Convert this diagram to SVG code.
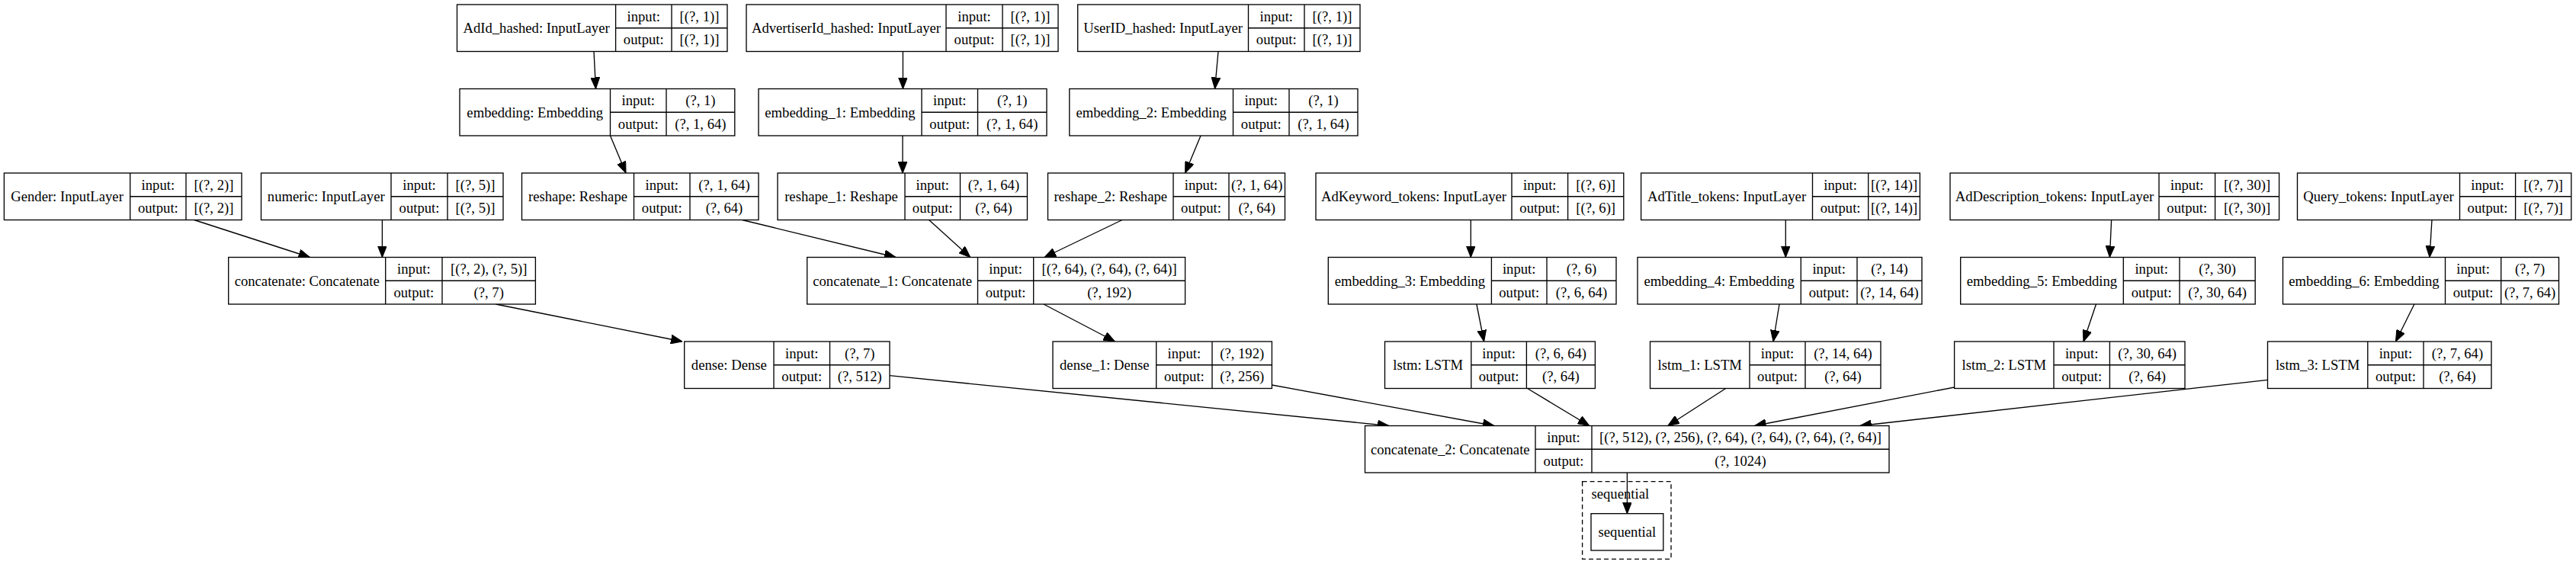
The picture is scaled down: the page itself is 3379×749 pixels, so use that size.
<svg xmlns="http://www.w3.org/2000/svg" width="3379" height="749" viewBox="0 0 3379 749">
<style>
.b{fill:#fff;stroke:#000;stroke-width:1.33}
.l{stroke:#000;stroke-width:1.33;fill:none}
.e{stroke:#000;stroke-width:1.33;fill:none;marker-end:url(#ah)}
text{font-family:"Liberation Serif","Times New Roman",serif;font-size:18.67px;text-anchor:middle;fill:#000}
</style>
<defs>
<marker id="ah" markerUnits="userSpaceOnUse" markerWidth="15" markerHeight="12" viewBox="0 0 14 11" refX="14" refY="5.5" orient="auto"><path d="M0,0 L14,5.5 L0,11 z" fill="#000" stroke="#000" stroke-width="1"/></marker>
</defs>
<rect width="3379" height="749" fill="#fff"/>

<g id="connectors">
<line class="e" x1="779" y1="67.5" x2="781.5" y2="116.5"/>
<line class="e" x1="1184.4" y1="67.5" x2="1184.4" y2="116.5"/>
<line class="e" x1="1598" y1="67.5" x2="1593.6" y2="116.5"/>
<line class="e" x1="800.5" y1="178" x2="821" y2="227"/>
<line class="e" x1="1184" y1="178" x2="1184" y2="227"/>
<line class="e" x1="1575" y1="178" x2="1554.6" y2="227"/>
<line class="e" x1="254.7" y1="288.5" x2="406.5" y2="337.5"/>
<line class="e" x1="501.4" y1="288.5" x2="501.4" y2="337.5"/>
<line class="e" x1="973.6" y1="288.5" x2="1175" y2="337.5"/>
<line class="e" x1="1218.6" y1="288.5" x2="1272.8" y2="337.5"/>
<line class="e" x1="1472" y1="288.5" x2="1370" y2="337.5"/>
<line class="e" x1="1929.3" y1="288.5" x2="1929.3" y2="337.5"/>
<line class="e" x1="2342.3" y1="288.5" x2="2342.3" y2="337.5"/>
<line class="e" x1="2769.6" y1="288.5" x2="2767.4" y2="337.5"/>
<line class="e" x1="3190" y1="288.5" x2="3187" y2="337.5"/>
<line class="e" x1="650.4" y1="399" x2="895" y2="448"/>
<line class="e" x1="1369" y1="399" x2="1462.5" y2="448"/>
<line class="e" x1="1936.9" y1="399" x2="1946.6" y2="448"/>
<line class="e" x1="2334" y1="399" x2="2326" y2="448"/>
<line class="e" x1="2749.5" y1="399" x2="2733" y2="448"/>
<line class="e" x1="3166.9" y1="399" x2="3142.5" y2="448"/>
<line class="e" x1="1167" y1="492.7" x2="1822" y2="558.5"/>
<line class="e" x1="1668.4" y1="505" x2="1960" y2="558.5"/>
<line class="e" x1="2003.5" y1="509.5" x2="2084.8" y2="558.5"/>
<line class="e" x1="2263.7" y1="509.5" x2="2187.8" y2="558.5"/>
<line class="e" x1="2563.6" y1="508" x2="2301.6" y2="558.5"/>
<line class="e" x1="2974.5" y1="498.3" x2="2439.8" y2="558.5"/>
<line class="e" x1="2134.4" y1="620" x2="2134.4" y2="673.7"/>
</g>

<!-- Row A T=6 -->
<g id="AdId_hashed">
<rect class="b" x="599.5" y="6" width="354.5" height="61.5"/>
<path class="l" d="M807.6,6V67.5M881,6V67.5M807.6,36.75H954"/>
<text x="703.55" y="43">AdId_hashed: InputLayer</text>
<text x="844.3" y="27.5">input:</text><text x="844.3" y="58">output:</text>
<text x="917.5" y="27.5">[(?, 1)]</text><text x="917.5" y="58">[(?, 1)]</text>
</g>
<g id="AdvertiserId_hashed">
<rect class="b" x="979" y="6" width="409" height="61.5"/>
<path class="l" d="M1241,6V67.5M1315,6V67.5M1241,36.75H1388"/>
<text x="1110" y="43">AdvertiserId_hashed: InputLayer</text>
<text x="1278" y="27.5">input:</text><text x="1278" y="58">output:</text>
<text x="1351.5" y="27.5">[(?, 1)]</text><text x="1351.5" y="58">[(?, 1)]</text>
</g>
<g id="UserID_hashed">
<rect class="b" x="1413.7" y="6" width="370.3" height="61.5"/>
<path class="l" d="M1637.5,6V67.5M1711,6V67.5M1637.5,36.75H1784"/>
<text x="1525.6" y="43">UserID_hashed: InputLayer</text>
<text x="1674.25" y="27.5">input:</text><text x="1674.25" y="58">output:</text>
<text x="1747.5" y="27.5">[(?, 1)]</text><text x="1747.5" y="58">[(?, 1)]</text>
</g>

<!-- Row B T=116.5 -->
<g id="embedding">
<rect class="b" x="603" y="116.5" width="360.8" height="61.5"/>
<path class="l" d="M800.5,116.5V178M874,116.5V178M800.5,147.25H963.8"/>
<text x="701.75" y="153.5">embedding: Embedding</text>
<text x="837.25" y="138">input:</text><text x="837.25" y="168.5">output:</text>
<text x="918.9" y="138">(?, 1)</text><text x="918.9" y="168.5">(?, 1, 64)</text>
</g>
<g id="embedding_1">
<rect class="b" x="995" y="116.5" width="378" height="61.5"/>
<path class="l" d="M1209,116.5V178M1282.5,116.5V178M1209,147.25H1373"/>
<text x="1102" y="153.5">embedding_1: Embedding</text>
<text x="1245.75" y="138">input:</text><text x="1245.75" y="168.5">output:</text>
<text x="1327.75" y="138">(?, 1)</text><text x="1327.75" y="168.5">(?, 1, 64)</text>
</g>
<g id="embedding_2">
<rect class="b" x="1402.8" y="116.5" width="378.2" height="61.5"/>
<path class="l" d="M1617.5,116.5V178M1691,116.5V178M1617.5,147.25H1781"/>
<text x="1510.15" y="153.5">embedding_2: Embedding</text>
<text x="1654.25" y="138">input:</text><text x="1654.25" y="168.5">output:</text>
<text x="1736" y="138">(?, 1)</text><text x="1736" y="168.5">(?, 1, 64)</text>
</g>

<!-- Row C T=227 -->
<g id="Gender">
<rect class="b" x="5.4" y="227" width="311.6" height="61.5"/>
<path class="l" d="M170.7,227V288.5M244,227V288.5M170.7,257.75H317"/>
<text x="88.05" y="264">Gender: InputLayer</text>
<text x="207.35" y="248.5">input:</text><text x="207.35" y="279">output:</text>
<text x="280.5" y="248.5">[(?, 2)]</text><text x="280.5" y="279">[(?, 2)]</text>
</g>
<g id="numeric">
<rect class="b" x="342.5" y="227" width="317.5" height="61.5"/>
<path class="l" d="M513,227V288.5M587,227V288.5M513,257.75H660"/>
<text x="427.75" y="264">numeric: InputLayer</text>
<text x="550" y="248.5">input:</text><text x="550" y="279">output:</text>
<text x="623.5" y="248.5">[(?, 5)]</text><text x="623.5" y="279">[(?, 5)]</text>
</g>
<g id="reshape">
<rect class="b" x="684.5" y="227" width="310.5" height="61.5"/>
<path class="l" d="M831.5,227V288.5M905,227V288.5M831.5,257.75H995"/>
<text x="758" y="264">reshape: Reshape</text>
<text x="868.25" y="248.5">input:</text><text x="868.25" y="279">output:</text>
<text x="950" y="248.5">(?, 1, 64)</text><text x="950" y="279">(?, 64)</text>
</g>
<g id="reshape_1">
<rect class="b" x="1020" y="227" width="327.5" height="61.5"/>
<path class="l" d="M1187,227V288.5M1259.5,227V288.5M1187,257.75H1347.5"/>
<text x="1103.5" y="264">reshape_1: Reshape</text>
<text x="1223.25" y="248.5">input:</text><text x="1223.25" y="279">output:</text>
<text x="1303.5" y="248.5">(?, 1, 64)</text><text x="1303.5" y="279">(?, 64)</text>
</g>
<g id="reshape_2">
<rect class="b" x="1374.5" y="227" width="311" height="61.5"/>
<path class="l" d="M1539,227V288.5M1612,227V288.5M1539,257.75H1685.5"/>
<text x="1456.75" y="264">reshape_2: Reshape</text>
<text x="1575.5" y="248.5">input:</text><text x="1575.5" y="279">output:</text>
<text x="1648.75" y="248.5">(?, 1, 64)</text><text x="1648.75" y="279">(?, 64)</text>
</g>
<g id="AdKeyword_tokens">
<rect class="b" x="1726" y="227" width="403.8" height="61.5"/>
<path class="l" d="M1983,227V288.5M2056.6,227V288.5M1983,257.75H2129.8"/>
<text x="1854.5" y="264">AdKeyword_tokens: InputLayer</text>
<text x="2019.8" y="248.5">input:</text><text x="2019.8" y="279">output:</text>
<text x="2093.2" y="248.5">[(?, 6)]</text><text x="2093.2" y="279">[(?, 6)]</text>
</g>
<g id="AdTitle_tokens">
<rect class="b" x="2152.6" y="227" width="365.8" height="61.5"/>
<path class="l" d="M2377.5,227V288.5M2450.7,227V288.5M2377.5,257.75H2518.4"/>
<text x="2265.05" y="264">AdTitle_tokens: InputLayer</text>
<text x="2414.1" y="248.5">input:</text><text x="2414.1" y="279">output:</text>
<text x="2484.55" y="248.5">[(?, 14)]</text><text x="2484.55" y="279">[(?, 14)]</text>
</g>
<g id="AdDescription_tokens">
<rect class="b" x="2558" y="227" width="431.6" height="61.5"/>
<path class="l" d="M2832,227V288.5M2905.6,227V288.5M2832,257.75H2989.6"/>
<text x="2695" y="264">AdDescription_tokens: InputLayer</text>
<text x="2868.8" y="248.5">input:</text><text x="2868.8" y="279">output:</text>
<text x="2947.6" y="248.5">[(?, 30)]</text><text x="2947.6" y="279">[(?, 30)]</text>
</g>
<g id="Query_tokens">
<rect class="b" x="3013.5" y="227" width="359.3" height="61.5"/>
<path class="l" d="M3226.5,227V288.5M3299.6,227V288.5M3226.5,257.75H3372.8"/>
<text x="3120" y="264">Query_tokens: InputLayer</text>
<text x="3263.05" y="248.5">input:</text><text x="3263.05" y="279">output:</text>
<text x="3336.2" y="248.5">[(?, 7)]</text><text x="3336.2" y="279">[(?, 7)]</text>
</g>

<!-- Row D T=337.5 -->
<g id="concatenate">
<rect class="b" x="299.7" y="337.5" width="402.7" height="61.5"/>
<path class="l" d="M505.7,337.5V399M580,337.5V399M505.7,368.25H702.4"/>
<text x="402.7" y="374.5">concatenate: Concatenate</text>
<text x="542.85" y="359">input:</text><text x="542.85" y="389.5">output:</text>
<text x="641.2" y="359">[(?, 2), (?, 5)]</text><text x="641.2" y="389.5">(?, 7)</text>
</g>
<g id="concatenate_1">
<rect class="b" x="1058.7" y="337.5" width="495.9" height="61.5"/>
<path class="l" d="M1282.5,337.5V399M1355.7,337.5V399M1282.5,368.25H1554.6"/>
<text x="1170.6" y="374.5">concatenate_1: Concatenate</text>
<text x="1319.1" y="359">input:</text><text x="1319.1" y="389.5">output:</text>
<text x="1455.15" y="359">[(?, 64), (?, 64), (?, 64)]</text><text x="1455.15" y="389.5">(?, 192)</text>
</g>
<g id="embedding_3">
<rect class="b" x="1742.3" y="337.5" width="377.7" height="61.5"/>
<path class="l" d="M1956.4,337.5V399M2029,337.5V399M1956.4,368.25H2120"/>
<text x="1849.35" y="374.5">embedding_3: Embedding</text>
<text x="1992.7" y="359">input:</text><text x="1992.7" y="389.5">output:</text>
<text x="2074.5" y="359">(?, 6)</text><text x="2074.5" y="389.5">(?, 6, 64)</text>
</g>
<g id="embedding_4">
<rect class="b" x="2148" y="337.5" width="373" height="61.5"/>
<path class="l" d="M2362.3,337.5V399M2436,337.5V399M2362.3,368.25H2521"/>
<text x="2255.15" y="374.5">embedding_4: Embedding</text>
<text x="2399.15" y="359">input:</text><text x="2399.15" y="389.5">output:</text>
<text x="2478.5" y="359">(?, 14)</text><text x="2478.5" y="389.5">(?, 14, 64)</text>
</g>
<g id="embedding_5">
<rect class="b" x="2571.7" y="337.5" width="386.5" height="61.5"/>
<path class="l" d="M2785.3,337.5V399M2859,337.5V399M2785.3,368.25H2958.2"/>
<text x="2678.5" y="374.5">embedding_5: Embedding</text>
<text x="2822.15" y="359">input:</text><text x="2822.15" y="389.5">output:</text>
<text x="2908.6" y="359">(?, 30)</text><text x="2908.6" y="389.5">(?, 30, 64)</text>
</g>
<g id="embedding_6">
<rect class="b" x="2994.5" y="337.5" width="362" height="61.5"/>
<path class="l" d="M3207.5,337.5V399M3280.7,337.5V399M3207.5,368.25H3356.5"/>
<text x="3101" y="374.5">embedding_6: Embedding</text>
<text x="3244.1" y="359">input:</text><text x="3244.1" y="389.5">output:</text>
<text x="3318.6" y="359">(?, 7)</text><text x="3318.6" y="389.5">(?, 7, 64)</text>
</g>

<!-- Row E T=448 -->
<g id="dense">
<rect class="b" x="897.7" y="448" width="269.3" height="61.5"/>
<path class="l" d="M1015,448V509.5M1088.5,448V509.5M1015,478.75H1167"/>
<text x="956.35" y="485">dense: Dense</text>
<text x="1051.75" y="469.5">input:</text><text x="1051.75" y="500">output:</text>
<text x="1127.75" y="469.5">(?, 7)</text><text x="1127.75" y="500">(?, 512)</text>
</g>
<g id="dense_1">
<rect class="b" x="1381" y="448" width="287.4" height="61.5"/>
<path class="l" d="M1516.7,448V509.5M1590,448V509.5M1516.7,478.75H1668.4"/>
<text x="1448.85" y="485">dense_1: Dense</text>
<text x="1553.35" y="469.5">input:</text><text x="1553.35" y="500">output:</text>
<text x="1629.2" y="469.5">(?, 192)</text><text x="1629.2" y="500">(?, 256)</text>
</g>
<g id="lstm">
<rect class="b" x="1816.5" y="448" width="275.9" height="61.5"/>
<path class="l" d="M1929.8,448V509.5M2002.4,448V509.5M1929.8,478.75H2092.4"/>
<text x="1873.15" y="485">lstm: LSTM</text>
<text x="1966.1" y="469.5">input:</text><text x="1966.1" y="500">output:</text>
<text x="2047.4" y="469.5">(?, 6, 64)</text><text x="2047.4" y="500">(?, 64)</text>
</g>
<g id="lstm_1">
<rect class="b" x="2164.5" y="448" width="302.5" height="61.5"/>
<path class="l" d="M2295,448V509.5M2368,448V509.5M2295,478.75H2467"/>
<text x="2229.75" y="485">lstm_1: LSTM</text>
<text x="2331.5" y="469.5">input:</text><text x="2331.5" y="500">output:</text>
<text x="2417.5" y="469.5">(?, 14, 64)</text><text x="2417.5" y="500">(?, 64)</text>
</g>
<g id="lstm_2">
<rect class="b" x="2563.6" y="448" width="302.4" height="61.5"/>
<path class="l" d="M2694,448V509.5M2767.4,448V509.5M2694,478.75H2866"/>
<text x="2628.8" y="485">lstm_2: LSTM</text>
<text x="2730.7" y="469.5">input:</text><text x="2730.7" y="500">output:</text>
<text x="2816.7" y="469.5">(?, 30, 64)</text><text x="2816.7" y="500">(?, 64)</text>
</g>
<g id="lstm_3">
<rect class="b" x="2974.5" y="448" width="293.5" height="61.5"/>
<path class="l" d="M3105.8,448V509.5M3179,448V509.5M3105.8,478.75H3268"/>
<text x="3040.15" y="485">lstm_3: LSTM</text>
<text x="3142.4" y="469.5">input:</text><text x="3142.4" y="500">output:</text>
<text x="3223.5" y="469.5">(?, 7, 64)</text><text x="3223.5" y="500">(?, 64)</text>
</g>

<!-- Row F T=558.5 -->
<g id="concatenate_2">
<rect class="b" x="1790.5" y="558.5" width="687.5" height="61.5"/>
<path class="l" d="M2014,558.5V620M2088,558.5V620M2014,589.25H2478"/>
<text x="1902.25" y="595.5">concatenate_2: Concatenate</text>
<text x="2051" y="580">input:</text><text x="2051" y="610.5">output:</text>
<text x="2283" y="580">[(?, 512), (?, 256), (?, 64), (?, 64), (?, 64), (?, 64)]</text><text x="2283" y="610.5">(?, 1024)</text>
</g>

<g id="cluster_sequential">
<rect x="2075.6" y="631.7" width="116.4" height="101.6" fill="none" stroke="#000" stroke-width="1.33" stroke-dasharray="6,4"/>
<text x="2087.5" y="654" style="text-anchor:start">sequential</text>
</g>
<g id="sequential">
<rect class="b" x="2087" y="673.7" width="94.8" height="48.3"/>
<text x="2134.4" y="704">sequential</text>
</g>
</svg>
